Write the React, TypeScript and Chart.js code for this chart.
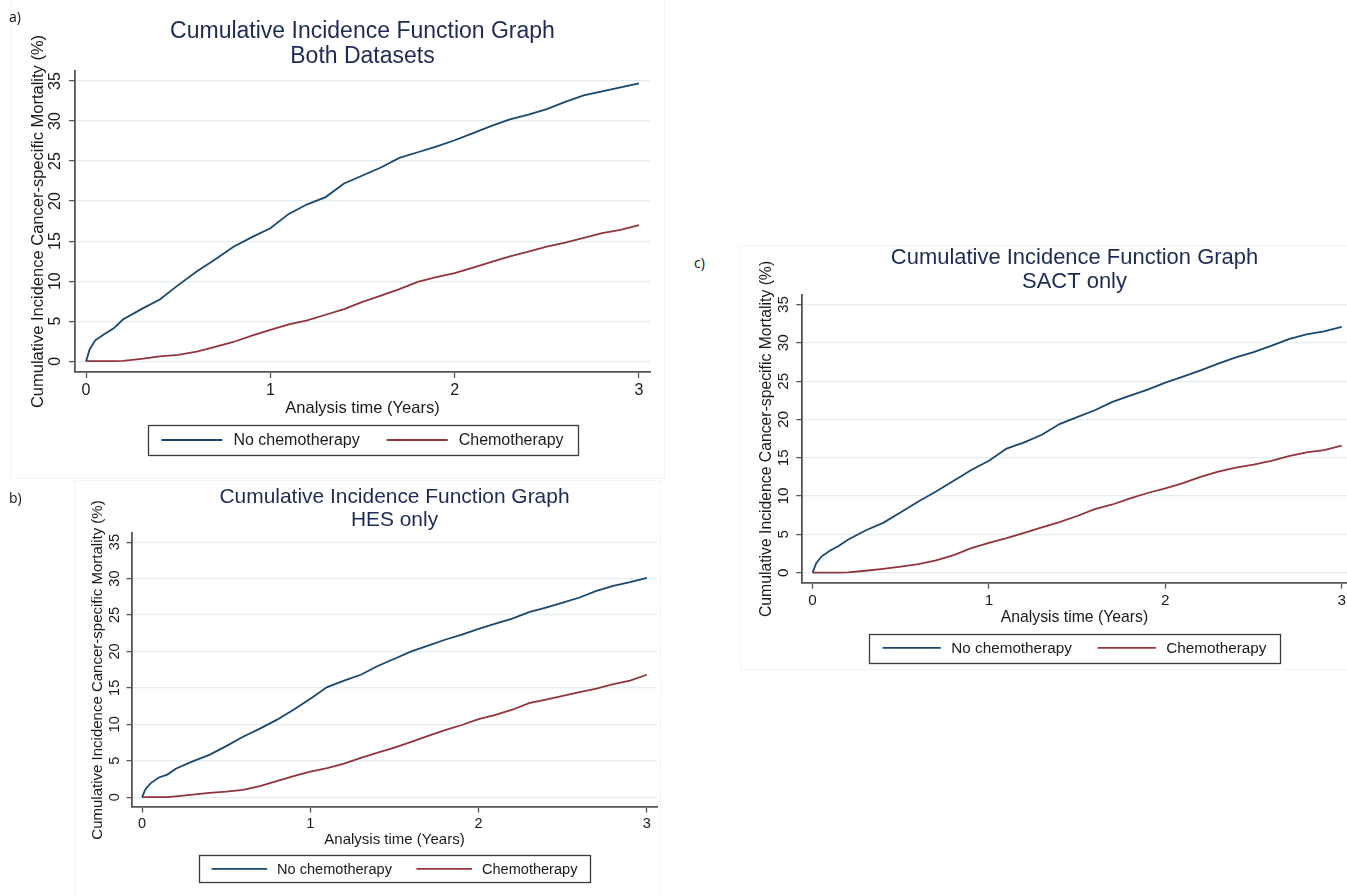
import React, { useEffect, useRef } from "react";
import { Chart, registerables } from "chart.js";

Chart.register(...registerables);

// ---------- data ----------
const TIME = [0, 0.02, 0.05, 0.1, 0.15, 0.2, 0.3, 0.4, 0.5, 0.6, 0.7, 0.8, 0.9, 1.0, 1.1, 1.2, 1.3, 1.4, 1.5, 1.6, 1.7, 1.8, 1.9, 2.0, 2.1, 2.2, 2.3, 2.4, 2.5, 2.6, 2.7, 2.8, 2.9, 3.0];

const BOTH_NO_CHEMO = [0, 1.5, 2.6, 3.4, 4.1, 5.2, 6.5, 7.7, 9.5, 11.2, 12.7, 14.3, 15.5, 16.6, 18.4, 19.6, 20.5, 22.2, 23.2, 24.2, 25.4, 26.1, 26.8, 27.6, 28.5, 29.4, 30.2, 30.8, 31.5, 32.4, 33.2, 33.7, 34.2, 34.7];
const BOTH_CHEMO = [0, 0, 0, 0, 0, 0.05, 0.3, 0.6, 0.8, 1.2, 1.8, 2.4, 3.2, 3.9, 4.6, 5.1, 5.8, 6.5, 7.4, 8.2, 9.0, 9.9, 10.5, 11.0, 11.7, 12.4, 13.1, 13.7, 14.3, 14.8, 15.4, 16.0, 16.4, 17.0];

const HES_NO_CHEMO = [0, 1.1, 1.9, 2.7, 3.1, 3.9, 4.9, 5.8, 7.0, 8.3, 9.4, 10.6, 12.0, 13.5, 15.1, 16.0, 16.8, 18.0, 19.0, 20.0, 20.8, 21.6, 22.3, 23.1, 23.8, 24.5, 25.4, 26.0, 26.7, 27.4, 28.3, 29.0, 29.5, 30.1];
const HES_CHEMO = [0, 0, 0, 0, 0, 0.1, 0.35, 0.6, 0.75, 1.0, 1.5, 2.2, 2.9, 3.5, 4.0, 4.6, 5.4, 6.1, 6.8, 7.6, 8.4, 9.2, 9.9, 10.7, 11.3, 12.0, 12.9, 13.4, 13.9, 14.4, 14.9, 15.5, 16.0, 16.8];

const SACT_NO_CHEMO = [0, 1.2, 2.1, 2.9, 3.5, 4.3, 5.5, 6.5, 7.9, 9.3, 10.6, 12.0, 13.4, 14.6, 16.2, 17.0, 18.0, 19.4, 20.3, 21.2, 22.3, 23.1, 23.9, 24.8, 25.6, 26.4, 27.3, 28.1, 28.8, 29.6, 30.5, 31.1, 31.5, 32.1];
const SACT_CHEMO = [0, 0, 0, 0, 0, 0.05, 0.25, 0.5, 0.8, 1.1, 1.6, 2.3, 3.2, 3.9, 4.5, 5.2, 5.9, 6.6, 7.4, 8.3, 8.9, 9.7, 10.4, 11.0, 11.7, 12.5, 13.2, 13.7, 14.1, 14.6, 15.2, 15.7, 16.0, 16.6];

const SERIES_LABELS = ["No chemotherapy", "Chemotherapy"];
const X_TICKS = [0, 1, 2, 3];
const Y_TICKS = [0, 5, 10, 15, 20, 25, 30, 35];
const TITLE_LINE = "Cumulative Incidence Function Graph";
const X_TITLE = "Analysis time (Years)";
const Y_TITLE = "Cumulative Incidence Cancer-specific Mortality (%)";

// ---------- styles ----------
const FONT = "'Liberation Sans', Arial, sans-serif";
const BLUE = "#1a476f";
const RED = "#90353b";
const TITLE_COLOR = "#1c2b55";
const TEXT = "#1a1a1a";
const AXIS = "#555555";
const GRID = "#e4edf0";

type Panel = {
  tag: string;
  sub: string;
  noChemo: number[];
  chemo: number[];
  canvas: { x: number; y: number; w: number; h: number };
  area: { l: number; t: number; r: number; b: number };
  k: number;
  xMax: number;
  tagPos: { x: number; y: number };
  frame: { x: number; y: number; w: number; h: number };
};

const PANELS: Panel[] = [
  {
    tag: "a)", sub: "Both Datasets", noChemo: BOTH_NO_CHEMO, chemo: BOTH_CHEMO,
    canvas: { x: 0, y: 0, w: 665, h: 470 },
    area: { l: 75, t: 71, r: 650, b: 372 }, k: 1, xMax: 3.06,
    tagPos: { x: 9, y: 8 }, frame: { x: 10, y: -1, w: 655, h: 480 },
  },
  {
    tag: "b)", sub: "HES only", noChemo: HES_NO_CHEMO, chemo: HES_CHEMO,
    canvas: { x: 62, y: 478, w: 600, h: 418 },
    area: { l: 132, t: 533, r: 657, b: 807 }, k: 0.91, xMax: 3.06,
    tagPos: { x: 9, y: 489 }, frame: { x: 74, y: 480, w: 587, h: 420 },
  },
  {
    tag: "c)", sub: "SACT only", noChemo: SACT_NO_CHEMO, chemo: SACT_CHEMO,
    canvas: { x: 720, y: 240, w: 627, h: 440 },
    area: { l: 802, t: 295, r: 1347, b: 583 }, k: 0.955, xMax: 3.03,
    tagPos: { x: 694, y: 254 }, frame: { x: 740, y: 245, w: 610, h: 425 },
  },
];

const framedLegend = {
  id: "framedLegend",
  afterDraw(chart: any, _args: any, opts: any) {
    const k = opts.k as number;
    const { ctx, chartArea } = chart;
    const cx = (chartArea.left + chartArea.right) / 2;
    const top = chartArea.bottom + 53 * k;
    const bottom = chartArea.bottom + 83 * k;
    const boxW = 430 * k;
    ctx.save();
    ctx.strokeStyle = "#3a3a3a";
    ctx.lineWidth = 1.3;
    ctx.strokeRect(Math.round(cx - boxW / 2) + 0.5, Math.round(top) + 0.5, Math.round(boxW), Math.round(bottom - top));
    ctx.font = `${16 * k}px ${FONT}`;
    ctx.textBaseline = "middle";
    ctx.textAlign = "left";
    const lineLen = 61 * k;
    const gap = 11 * k;
    const itemGap = 27 * k;
    const ds = chart.data.datasets;
    const widths = ds.map((d: any) => lineLen + gap + ctx.measureText(d.label).width);
    const total = widths.reduce((a: number, b: number) => a + b, 0) + itemGap * (ds.length - 1);
    let x = cx - total / 2;
    const y = (top + bottom) / 2;
    ds.forEach((d: any, i: number) => {
      ctx.strokeStyle = d.borderColor;
      ctx.lineWidth = d.borderWidth;
      ctx.beginPath();
      ctx.moveTo(x, y);
      ctx.lineTo(x + lineLen, y);
      ctx.stroke();
      ctx.fillStyle = TEXT;
      ctx.fillText(d.label, x + lineLen + gap, y + 1);
      x += widths[i] + itemGap;
    });
    ctx.restore();
  },
};

function buildConfig(p: Panel): any {
  const k = p.k;
  const cw = p.canvas.w;
  const ch = p.canvas.h;
  const L = p.area.l - p.canvas.x;
  const T = p.area.t - p.canvas.y;
  const R = p.area.r - p.canvas.x;
  const B = p.area.b - p.canvas.y;

  const titleSize = 23 * k;
  const titleLH = 25 * k;
  const titlePadTop = T - 39 * k - titleLH / 2;
  const titlePadBottom = T - titlePadTop - 2 * titleLH;

  const axTitleSize = 16.5 * k;
  const axTitleLH = axTitleSize * 1.2;
  const tickSize = 16 * k;
  const tickLH = tickSize * 1.2;
  const tl = 6 * k;

  const padLeft = L - 37 * k - axTitleLH / 2;
  const yWidth = L - padLeft;
  const xHeight = 36 * k + axTitleLH / 2;
  const padBottom = ch - B - xHeight;
  const padRight = cw - R;
  const xTickPad = 19 * k - tl - tickLH / 2;
  const yTickPad = 19 * k - tl - (1.112 * tickSize) / 2;

  const tickFont = { family: FONT, size: tickSize, lineHeight: 1.2 };
  const axFont = { family: FONT, size: axTitleSize, lineHeight: 1.2 };

  return {
    type: "line",
    data: {
      datasets: [
        {
          label: SERIES_LABELS[0],
          data: TIME.map((t, i) => ({ x: t, y: p.noChemo[i] })),
          borderColor: BLUE,
          borderWidth: 1.8,
          pointRadius: 0,
          tension: 0,
          fill: false,
        },
        {
          label: SERIES_LABELS[1],
          data: TIME.map((t, i) => ({ x: t, y: p.chemo[i] })),
          borderColor: RED,
          borderWidth: 1.8,
          pointRadius: 0,
          tension: 0,
          fill: false,
        },
      ],
    },
    options: {
      animation: false,
      responsive: false,
      devicePixelRatio: 1,
      events: [],
      layout: { padding: { left: padLeft, right: padRight, top: 0, bottom: padBottom } },
      plugins: {
        legend: { display: false },
        tooltip: { enabled: false },
        title: {
          display: true,
          fullSize: false,
          text: [TITLE_LINE, p.sub],
          color: TITLE_COLOR,
          font: { family: FONT, size: titleSize, weight: "normal", lineHeight: `${titleLH}px` },
          padding: { top: titlePadTop, bottom: titlePadBottom },
        },
        framedLegend: { k },
      },
      scales: {
        x: {
          type: "linear",
          min: -0.06,
          max: p.xMax,
          afterBuildTicks: (s: any) => {
            s.ticks = X_TICKS.map((v) => ({ value: v }));
          },
          afterFit: (s: any) => {
            s.height = xHeight;
            s.paddingLeft = 0;
            s.paddingRight = 0;
          },
          grid: { drawOnChartArea: false, drawTicks: true, tickLength: tl, tickColor: AXIS, tickWidth: 1.3 },
          border: { display: true, color: AXIS, width: 1.8 },
          ticks: { font: tickFont, color: TEXT, padding: xTickPad, maxRotation: 0, autoSkip: false },
          title: { display: true, text: X_TITLE, font: axFont, color: TEXT, padding: { top: 0, bottom: 0 } },
        },
        y: {
          type: "linear",
          min: -1.35,
          max: 36.25,
          afterBuildTicks: (s: any) => {
            s.ticks = Y_TICKS.map((v) => ({ value: v }));
          },
          afterFit: (s: any) => {
            s.width = yWidth;
            s.paddingTop = 0;
            s.paddingBottom = 0;
          },
          grid: { color: GRID, lineWidth: 1.2, drawTicks: true, tickLength: tl, tickColor: AXIS, tickWidth: 1.3 },
          border: { display: true, color: AXIS, width: 1.8 },
          ticks: {
            font: tickFont,
            color: TEXT,
            padding: yTickPad,
            minRotation: 90,
            maxRotation: 90,
            crossAlign: "center",
            autoSkip: false,
          },
          title: { display: true, text: Y_TITLE, font: axFont, color: TEXT, padding: { top: 0, bottom: 0 } },
        },
      },
    },
    plugins: [framedLegend],
  };
}

function PanelChart({ p }: { p: Panel }) {
  const ref = useRef<HTMLCanvasElement | null>(null);
  useEffect(() => {
    if (!ref.current) return;
    const chart = new Chart(ref.current, buildConfig(p));
    return () => chart.destroy();
  }, [p]);
  return (
    <canvas
      ref={ref}
      width={p.canvas.w}
      height={p.canvas.h}
      style={{ position: "absolute", left: p.canvas.x, top: p.canvas.y, width: p.canvas.w, height: p.canvas.h }}
    />
  );
}

export default function App() {
  return (
    <div style={{ position: "absolute", left: 0, top: 0, width: 1347, height: 896, background: "#ffffff", overflow: "hidden" }}>
      {PANELS.map((p) => (
        <div
          key={p.tag + "f"}
          style={{
            position: "absolute",
            left: p.frame.x,
            top: p.frame.y,
            width: p.frame.w,
            height: p.frame.h,
            border: "1px solid #f5f5f5",
            boxSizing: "border-box",
          }}
        />
      ))}
      {PANELS.map((p) => (
        <PanelChart key={p.tag} p={p} />
      ))}
      {PANELS.map((p) => (
        <div
          key={p.tag + "t"}
          style={{
            position: "absolute",
            left: p.tagPos.x,
            top: p.tagPos.y,
            font: `14px 'Open Sans', 'Liberation Sans', sans-serif`,
            color: "#111",
            lineHeight: "18px",
          }}
        >
          {p.tag}
        </div>
      ))}
    </div>
  );
}
